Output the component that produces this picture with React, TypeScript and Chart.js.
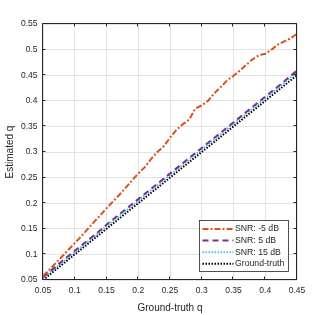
import React, { useEffect, useRef } from 'react';
import { Chart, registerables } from 'chart.js';

Chart.register(...registerables);

const qValues = [0.05, 0.06, 0.07, 0.08, 0.09, 0.10, 0.11, 0.12, 0.13, 0.14, 0.15, 0.16, 0.17, 0.18, 0.19, 0.20, 0.21, 0.22, 0.23, 0.24, 0.25, 0.26, 0.27, 0.28, 0.29, 0.30, 0.31, 0.32, 0.33, 0.34, 0.35, 0.36, 0.37, 0.38, 0.39, 0.40, 0.41, 0.42, 0.43, 0.44, 0.45];

const snrMinus5 = [0.058, 0.070, 0.083, 0.096, 0.109, 0.122, 0.135, 0.149, 0.163, 0.176, 0.190, 0.203, 0.216, 0.230, 0.244, 0.258, 0.270, 0.286, 0.300, 0.311, 0.328, 0.343, 0.354, 0.363, 0.385, 0.391, 0.400, 0.415, 0.427, 0.440, 0.449, 0.459, 0.470, 0.481, 0.489, 0.492, 0.500, 0.510, 0.516, 0.522, 0.531];

const snr5 = [0.056, 0.066, 0.076, 0.087, 0.097, 0.107, 0.117, 0.127, 0.137, 0.147, 0.158, 0.168, 0.178, 0.188, 0.198, 0.208, 0.218, 0.228, 0.238, 0.248, 0.258, 0.268, 0.278, 0.288, 0.298, 0.308, 0.318, 0.328, 0.338, 0.348, 0.358, 0.368, 0.378, 0.388, 0.398, 0.408, 0.418, 0.428, 0.438, 0.449, 0.459];

const snr15 = [0.054, 0.064, 0.074, 0.084, 0.094, 0.104, 0.114, 0.124, 0.134, 0.145, 0.155, 0.165, 0.175, 0.185, 0.195, 0.205, 0.215, 0.225, 0.235, 0.245, 0.255, 0.265, 0.275, 0.285, 0.295, 0.305, 0.315, 0.325, 0.335, 0.345, 0.355, 0.365, 0.375, 0.385, 0.395, 0.405, 0.415, 0.425, 0.435, 0.446, 0.456];

const groundTruth = [0.05, 0.06, 0.07, 0.08, 0.09, 0.10, 0.11, 0.12, 0.13, 0.14, 0.15, 0.16, 0.17, 0.18, 0.19, 0.20, 0.21, 0.22, 0.23, 0.24, 0.25, 0.26, 0.27, 0.28, 0.29, 0.30, 0.31, 0.32, 0.33, 0.34, 0.35, 0.36, 0.37, 0.38, 0.39, 0.40, 0.41, 0.42, 0.43, 0.44, 0.45];

const xTicks = [0.05, 0.1, 0.15, 0.2, 0.25, 0.3, 0.35, 0.4, 0.45];
const yTicks = [0.05, 0.1, 0.15, 0.2, 0.25, 0.3, 0.35, 0.4, 0.45, 0.5, 0.55];

const seriesLabels = ['SNR: -5 dB', 'SNR: 5 dB', 'SNR: 15 dB', 'Ground-truth'];
const seriesColors = ['#D95319', '#7E2F8E', '#4DBEEE', '#000000'];
const seriesDashes = [[6, 2, 2, 2], [6, 4], [1.5, 1.5], [1.5, 1.5]];
const seriesWidths = [2, 2, 2, 2];

const FONT = '"Liberation Sans", Arial, Helvetica, sans-serif';
const TEXT = '#262626';

const fmt = (v: number) => String(Number(Number(v).toFixed(2)));

const boxPlugin = {
  id: 'matlabBox',
  afterDatasetsDraw(chart: any) {
    const { ctx, chartArea, scales } = chart;
    const { left, right, top, bottom } = chartArea;
    const x = scales.x;
    const y = scales.y;
    ctx.save();
    ctx.strokeStyle = TEXT;
    ctx.lineWidth = 1;
    ctx.setLineDash([]);
    ctx.beginPath();
    const L = left - 0.5, R = right - 0.5, T = top - 0.5, B = bottom - 0.5;
    xTicks.forEach((v) => {
      const px = Math.round(x.getPixelForValue(v)) - 0.5;
      ctx.moveTo(px, B); ctx.lineTo(px, B - 3);
      ctx.moveTo(px, T); ctx.lineTo(px, T + 3);
    });
    yTicks.forEach((v) => {
      const py = Math.round(y.getPixelForValue(v)) - 0.5;
      ctx.moveTo(L, py); ctx.lineTo(L + 3, py);
      ctx.moveTo(R, py); ctx.lineTo(R - 3, py);
    });
    ctx.rect(L, T, R - L, B - T);
    ctx.stroke();
    ctx.restore();
  },
  afterDraw(chart: any) {
    const { ctx } = chart;
    const x0 = 199.5, y0 = 220.5, w = 89, h = 51;
    ctx.save();
    ctx.fillStyle = '#ffffff';
    ctx.fillRect(x0, y0, w, h);
    ctx.strokeStyle = TEXT;
    ctx.lineWidth = 0.8;
    ctx.setLineDash([]);
    ctx.strokeRect(x0, y0, w, h);
    ctx.font = `8.7px ${FONT}`;
    ctx.textBaseline = 'middle';
    ctx.textAlign = 'left';
    seriesLabels.forEach((label, i) => {
      const cy = y0 + 8.5 + i * 11.6;
      ctx.strokeStyle = seriesColors[i];
      ctx.lineWidth = seriesWidths[i];
      ctx.setLineDash(seriesDashes[i]);
      ctx.beginPath();
      ctx.moveTo(x0 + 3, cy);
      ctx.lineTo(x0 + 34, cy);
      ctx.stroke();
      ctx.setLineDash([]);
      ctx.fillStyle = TEXT;
      ctx.fillText(label, x0 + 35.5, cy);
    });
    ctx.restore();
  },
};

export default function App() {
  const canvasRef = useRef<HTMLCanvasElement | null>(null);

  useEffect(() => {
    document.body.style.margin = '0';
    const canvas = canvasRef.current;
    if (!canvas) return;
    const seriesData = [snrMinus5, snr5, snr15, groundTruth];
    const chart = new Chart(canvas, {
      type: 'line',
      data: {
        datasets: seriesData.map((vals, i) => ({
          label: seriesLabels[i],
          data: qValues.map((q, j) => ({ x: q, y: vals[j] })),
          borderColor: seriesColors[i],
          backgroundColor: seriesColors[i],
          borderDash: seriesDashes[i],
          borderWidth: seriesWidths[i],
          borderCapStyle: 'butt',
          pointRadius: 0,
          tension: 0,
          fill: false,
        })),
      },
      options: {
        animation: false,
        responsive: true,
        maintainAspectRatio: false,
        layout: { padding: { top: 24, right: 32, left: 0, bottom: 0 } },
        plugins: { legend: { display: false }, tooltip: { enabled: false } },
        scales: {
          x: {
            type: 'linear',
            min: 0.05,
            max: 0.45,
            afterBuildTicks: (s: any) => { s.ticks = xTicks.map((v) => ({ value: v })); },
            afterFit: (s: any) => { s.height = 35; },
            grid: { color: '#e3e3e3', drawTicks: false },
            border: { display: false },
            ticks: {
              callback: (v: any) => fmt(v),
              font: { family: FONT, size: 8.5 },
              color: TEXT,
              padding: 6,
              maxRotation: 0,
              autoSkip: false,
            },
            title: {
              display: true,
              text: 'Ground-truth q',
              font: { family: FONT, size: 10 },
              color: TEXT,
              padding: { top: 0, bottom: 1 },
            },
          },
          y: {
            type: 'linear',
            min: 0.05,
            max: 0.55,
            afterBuildTicks: (s: any) => { s.ticks = yTicks.map((v) => ({ value: v })); },
            afterFit: (s: any) => { s.width = 43; },
            grid: { color: '#e3e3e3', drawTicks: false },
            border: { display: false },
            ticks: {
              callback: (v: any) => fmt(v),
              font: { family: FONT, size: 8.5 },
              color: TEXT,
              padding: 5.5,
              autoSkip: false,
            },
            title: {
              display: true,
              text: 'Estimated q',
              font: { family: FONT, size: 10 },
              color: TEXT,
              padding: { top: 4.5, bottom: 0 },
            },
          },
        },
      },
      plugins: [boxPlugin],
    } as any);
    return () => chart.destroy();
  }, []);

  return (
    <div style={{ position: 'relative', width: 329, height: 315 }}>
      <canvas ref={canvasRef} />
    </div>
  );
}
